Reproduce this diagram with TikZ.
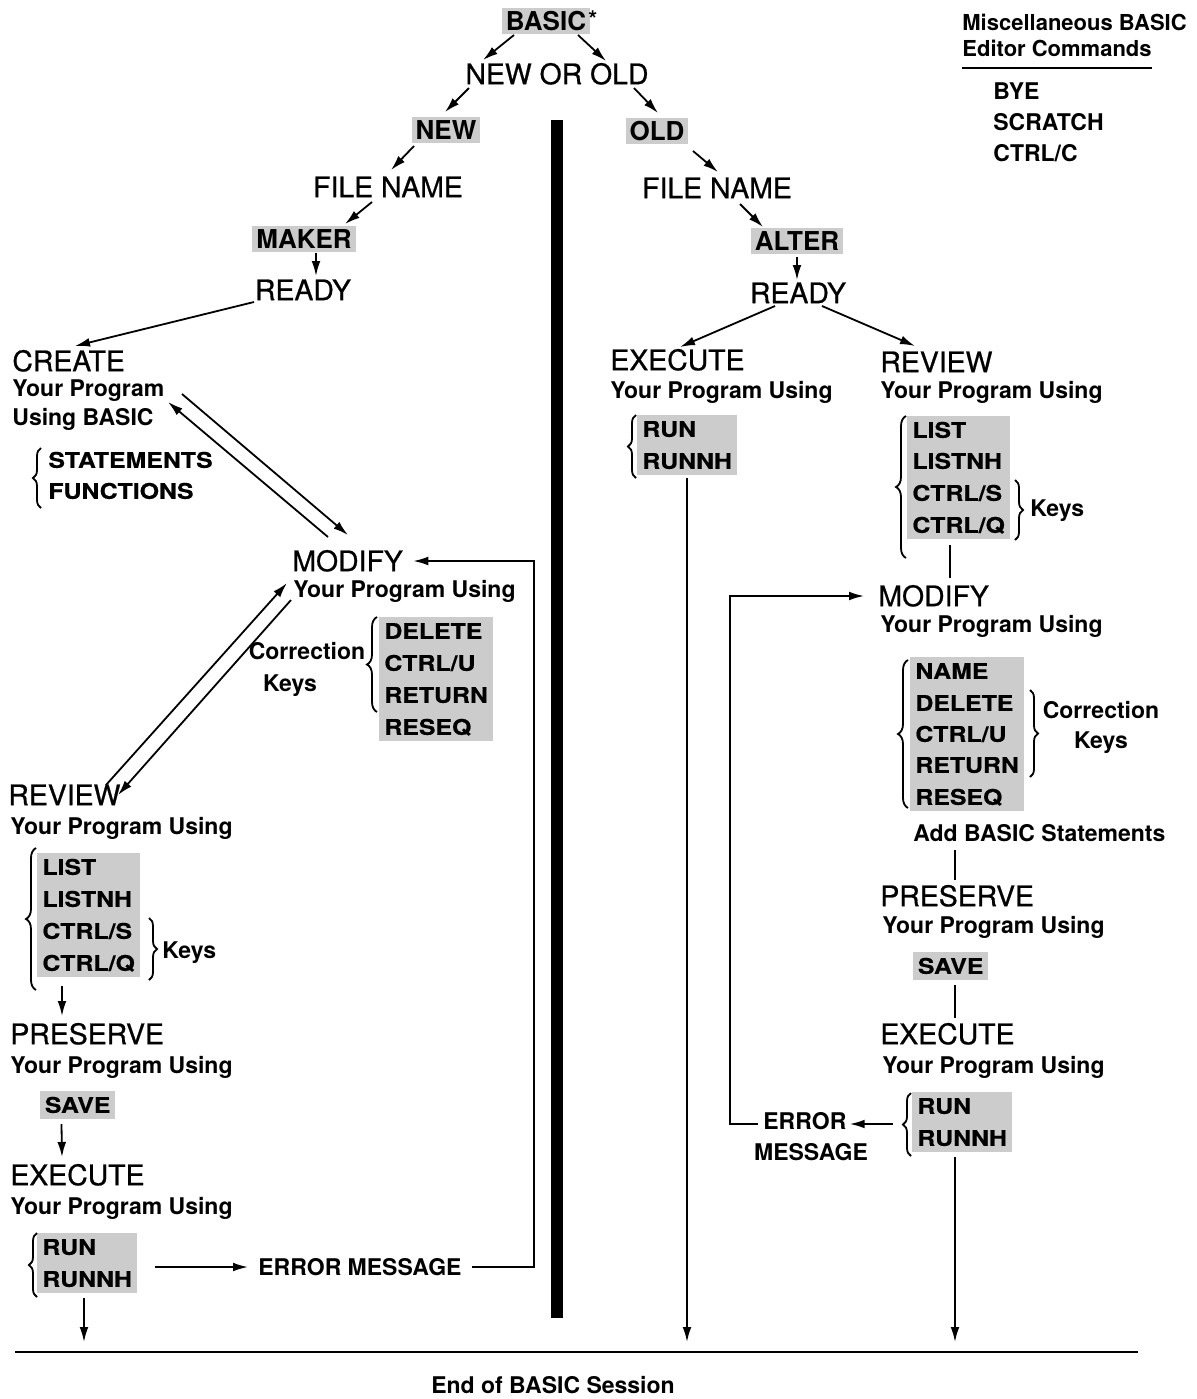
\documentclass[tikz,border=0pt]{standalone}
\usepackage{fontspec}
\setmainfont{TeX Gyre Heros}
\newfontfamily\keyfont[FakeStretch=1.15,FakeBold=0.5]{TeX Gyre Heros}
\newfontfamily\headfont[FakeBold=0.7]{TeX Gyre Heros}
\usetikzlibrary{arrows.meta,calc,fit,backgrounds,decorations.pathreplacing}
\definecolor{halftone}{gray}{0.8}
\begin{document}
\begin{tikzpicture}[x=0.5pt,y=-0.5pt,
  hd/.style={font=\headfont\fontsize{14.2}{16}\selectfont, inner sep=0pt, text height=10.2pt, text depth=0pt},
  nt/.style={font=\bfseries\fontsize{11.5}{14}\selectfont, inner sep=0pt, text height=8.3pt, text depth=0pt},
  kw/.style={font=\keyfont\bfseries\fontsize{10.8}{13}\selectfont, inner sep=0pt, text height=7.8pt, text depth=0pt},
  tg/.style={font=\bfseries\fontsize{13}{15}\selectfont, inner sep=2pt, text height=9.4pt, text depth=0pt, fill=halftone},
  halo/.style={fill=halftone, inner xsep=2.5pt, inner ysep=3pt},
  arr/.style={-{Latex[length=7.5pt,width=4.4pt]}, line width=0.9pt},
  plainline/.style={line width=0.9pt},
  lbrace/.style={decorate, decoration={brace, amplitude=5pt}, line width=0.9pt},
  sbrace/.style={decorate, decoration={brace, amplitude=4pt}, line width=0.9pt},
]
\useasboundingbox (0,0) rectangle (1197,1399);

% ---------- top of the tree ----------
\node[tg] (basic) at (546,21) {BASIC};
\node[nt, anchor=west] (star) at (588,19) {*};
\node[hd] (newold) at (557,74) {NEW OR OLD};
\node[tg] (new) at (446,130) {NEW};
\node[tg] (old) at (657,131) {OLD};
\node[hd] (fnL) at (388,187) {FILE NAME};
\node[hd] (fnR) at (717,188) {FILE NAME};
\node[tg] (maker) at (304,239) {MAKER};
\node[tg] (alter) at (797,241) {ALTER};
\node[hd] (readyL) at (303,290) {READY};
\node[hd] (readyR) at (798,293) {READY};

\draw[arr] ($(basic.center)+(-32,14)$) -- ($(newold.center)+(-74,-14)$);
\draw[arr] ($(basic.center)+(32,14)$) -- ($(newold.center)+(49,-13)$);
\draw[arr] ($(newold.center)+(-88,14)$) -- ($(new.center)+(-1,-18)$);
\draw[arr] ($(newold.center)+(77,14)$) -- ($(old.center)+(1,-18)$);
\draw[arr] ($(new.center)+(-32,16)$) -- ($(fnL.center)+(3,-17)$);
\draw[arr] ($(old.center)+(36,20)$) -- ($(fnR.center)+(1,-16)$);
\draw[arr] ($(fnL.center)+(-16,15)$) -- ($(maker.center)+(41,-15)$);
\draw[arr] ($(fnR.center)+(23,16)$) -- ($(alter.center)+(-34,-14)$);
\draw[arr] ($(maker.center)+(12,14)$) -- ($(readyL.center)+(13,-14)$);
\draw[arr] ($(alter.center)+(0,16)$) -- ($(readyR.center)+(-1,-13)$);

% ---------- separator bar ----------
\fill (551,120) rectangle (563,1318);

% ---------- editor commands ----------
\node[nt, anchor=west, font=\bfseries\fontsize{11}{13}\selectfont] (misc1) at (962,22) {Miscellaneous BASIC};
\node[nt, anchor=west, font=\bfseries\fontsize{11}{13}\selectfont] (misc2) at (962,48) {Editor Commands};
\draw[line width=1.3pt] ($(misc2.west)+(0,20)$) -- ($(misc2.east)+(0,20)$);
\node[nt, anchor=west] (bye) at (993,91) {BYE};
\node[nt, anchor=west] (scr) at (993,122) {SCRATCH};
\node[nt, anchor=west] (ctc) at (993,153) {CTRL/C};

% ---------- NEW branch ----------
\node[hd, anchor=west] (create) at (12,361) {CREATE};
\node[nt, anchor=west] (yp1) at (12,388) {Your Program};
\node[nt, anchor=west] (ub) at (12,417) {Using BASIC};
\node[kw, anchor=west] (stm) at (48,460) {STATEMENTS};
\node[kw, anchor=west] (fns) at (48,491) {FUNCTIONS};
\draw[sbrace] (41,508) -- (41,448);

\draw[arr] ($(readyL.center)+(-49,12)$) -- ($(create.west)+(63,-15)$);

\node[hd, anchor=west] (modL) at (292,561) {MODIFY};
\node[nt, anchor=west] (ypm) at (293,589) {Your Program Using};
\node[nt] (corrL) at (307,651) {Correction};
\node[nt] (keysL) at (290,683) {Keys};
\node[kw, anchor=west] (delL) at (384,631) {DELETE};
\node[kw, anchor=west] (cuL) at (384,663) {CTRL/U};
\node[kw, anchor=west] (retL) at (384,695) {RETURN};
\node[kw, anchor=west] (rsqL) at (384,727) {RESEQ};
\draw[lbrace] (377,712) -- (377,617);

\draw[arr] ($(yp1.west)+(170,6)$) -- ($(modL.west)+(56,-26)$);
\draw[arr] ($(modL.west)+(36,-24)$) -- ($(yp1.west)+(156,14)$);

\node[hd, anchor=west] (revL) at (8,795) {REVIEW};
\node[nt, anchor=west] (ypr) at (10,826) {Your Program Using};
\node[kw, anchor=west] (lsL) at (42,867) {LIST};
\node[kw, anchor=west] (lnL) at (42,899) {LISTNH};
\node[kw, anchor=west] (csL) at (42,931) {CTRL/S};
\node[kw, anchor=west] (cqL) at (42,963) {CTRL/Q};
\draw[lbrace] (36,990) -- (36,848);
\draw[sbrace] (149,918) -- (149,980);
\node[nt, anchor=west] (kyL) at (162,950) {Keys};

\draw[arr] ($(revL.west)+(98,-10)$) -- ($(modL.west)+(-5,22)$);
\draw[arr] ($(modL.west)+(-1,39)$) -- ($(revL.west)+(110,0)$);

\node[hd, anchor=west] (preL) at (10,1034) {PRESERVE};
\node[nt, anchor=west] (ypp) at (10,1065) {Your Program Using};
\node[kw, anchor=west, fill=halftone, inner xsep=2.5pt, inner ysep=3pt] (saveL) at (39.5,1105) {SAVE};
\draw[arr] ($(cqL.west)+(20,23)$) -- ($(preL.west)+(52,-18)$);

\node[hd, anchor=west] (exL) at (10,1175) {EXECUTE};
\node[nt, anchor=west] (ype) at (10,1206) {Your Program Using};
\node[kw, anchor=west] (runL) at (42,1247) {RUN};
\node[kw, anchor=west] (rnhL) at (42,1279) {RUNNH};
\draw[sbrace] (37,1297) -- (37,1233);
\draw[arr] ($(saveL.west)+(22,19)$) -- ($(exL.west)+(52,-18)$);

\node[nt, anchor=west] (errL) at (258,1267) {ERROR MESSAGE};
\draw[arr] ($(runL.west)+(113,20)$) -- ($(errL.west)+(-10,0)$);
\coordinate (jL) at (534,561);
\draw[arr] ($(errL.east)+(10,0)$) -| (jL) -- ($(modL.east)+(10,0)$);

% ---------- OLD branch ----------
\node[hd, anchor=west] (exR) at (610,360) {EXECUTE};
\node[nt, anchor=west] (ypxr) at (610,390) {Your Program Using};
\node[kw, anchor=west] (runR) at (642,429) {RUN};
\node[kw, anchor=west] (rnhR) at (642,461) {RUNNH};
\draw[sbrace] (636,478) -- (636,415);

\node[hd, anchor=west] (revR) at (880,362) {REVIEW};
\node[nt, anchor=west] (yprr) at (880,390) {Your Program Using};
\node[kw, anchor=west] (lsR) at (912,430) {LIST};
\node[kw, anchor=west] (lnR) at (912,461) {LISTNH};
\node[kw, anchor=west] (csR) at (912,493) {CTRL/S};
\node[kw, anchor=west] (cqR) at (912,525) {CTRL/Q};
\draw[lbrace] (906,558) -- (906,416);
\draw[sbrace] (1015,480) -- (1015,540);
\node[nt, anchor=west] (kyR) at (1030,508) {Keys};

\draw[arr] ($(readyR.center)+(-23,13)$) -- ($(exR.west)+(70,-13)$);
\draw[arr] ($(readyR.center)+(24,13)$) -- ($(revR.west)+(35,-16)$);

\node[hd, anchor=west] (modR) at (878,596) {MODIFY};
\node[nt, anchor=west] (ypmr) at (880,624) {Your Program Using};
\draw[plainline] ($(cqR.west)+(38,20)$) -- ($(modR.west)+(72,-18)$);

\node[kw, anchor=west] (nmR) at (915,671) {NAME};
\node[kw, anchor=west] (delR) at (915,703) {DELETE};
\node[kw, anchor=west] (cuR) at (915,734) {CTRL/U};
\node[kw, anchor=west] (retR) at (915,765) {RETURN};
\node[kw, anchor=west] (rsqR) at (915,797) {RESEQ};
\draw[lbrace] (908,808) -- (908,660);
\draw[sbrace] (1030,690) -- (1030,777);
\node[nt] (corrR) at (1101,710) {Correction};
\node[nt] (keysR) at (1101,740) {Keys};
\node[nt, anchor=west] (addS) at (913,833) {Add BASIC Statements};

\node[hd, anchor=west] (preR) at (880,896) {PRESERVE};
\node[nt, anchor=west] (yppr) at (882,925) {Your Program Using};
\node[kw, anchor=west, fill=halftone, inner xsep=2.5pt, inner ysep=3pt] (saveR) at (912.5,966) {SAVE};
\draw[plainline] ($(addS.west)+(42,17)$) -- ($(preR.west)+(75,-16)$);

\node[hd, anchor=west] (exR2) at (880,1034) {EXECUTE};
\node[nt, anchor=west] (ypx2) at (882,1065) {Your Program Using};
\node[kw, anchor=west] (runR2) at (917,1106) {RUN};
\node[kw, anchor=west] (rnhR2) at (917,1138) {RUNNH};
\draw[sbrace] (911,1156) -- (911,1093);
\draw[plainline] ($(saveR.west)+(42.5,19)$) -- ($(exR2.west)+(75,-16)$);

\node[nt, anchor=west] (errR) at (763,1121) {ERROR};
\node[nt] (msgR) at (811,1152) {MESSAGE};
\draw[arr] ($(runR2.west)+(-24,18)$) -- ($(errR.east)+(3,3)$);
\coordinate (jR) at (730,596);
\draw[arr] ($(errR.west)+(-5,3)$) -| (jR) -- ($(modR.west)+(-14,0)$);

% ---------- paper and shaded keyword groups ----------
\begin{scope}[on background layer]
  \fill[white] (0,0) rectangle (1197,1399);
  \node[halo, fit=(delL)(cuL)(retL)(rsqL)] {};
  \node[halo, fit=(lsL)(lnL)(csL)(cqL)] {};
  \node[halo, fit=(runL)(rnhL)] {};
  \node[halo, fit=(runR)(rnhR)] {};
  \node[halo, fit=(lsR)(lnR)(csR)(cqR)] {};
  \node[halo, fit=(nmR)(delR)(cuR)(retR)(rsqR)] {};
  \node[halo, fit=(runR2)(rnhR2)] {};
\end{scope}

% ---------- end of session ----------
\coordinate (endA) at (84,1342);
\coordinate (endB) at (687,1342);
\coordinate (endC) at (955,1342);
\draw[arr] ($(rnhL.west)+(42,19)$) -- (endA);
\draw[arr] ($(rnhR.west)+(45,17)$) -- (endB);
\draw[arr] ($(rnhR2.west)+(38,19)$) -- (endC);
\coordinate (lineL) at (15,1352);
\coordinate (lineR) at (1138,1352);
\draw[line width=0.9pt] (lineL) -- (lineR);
\node[nt] (endtxt) at (553,1385) {End of BASIC Session};
\end{tikzpicture}
\end{document}
